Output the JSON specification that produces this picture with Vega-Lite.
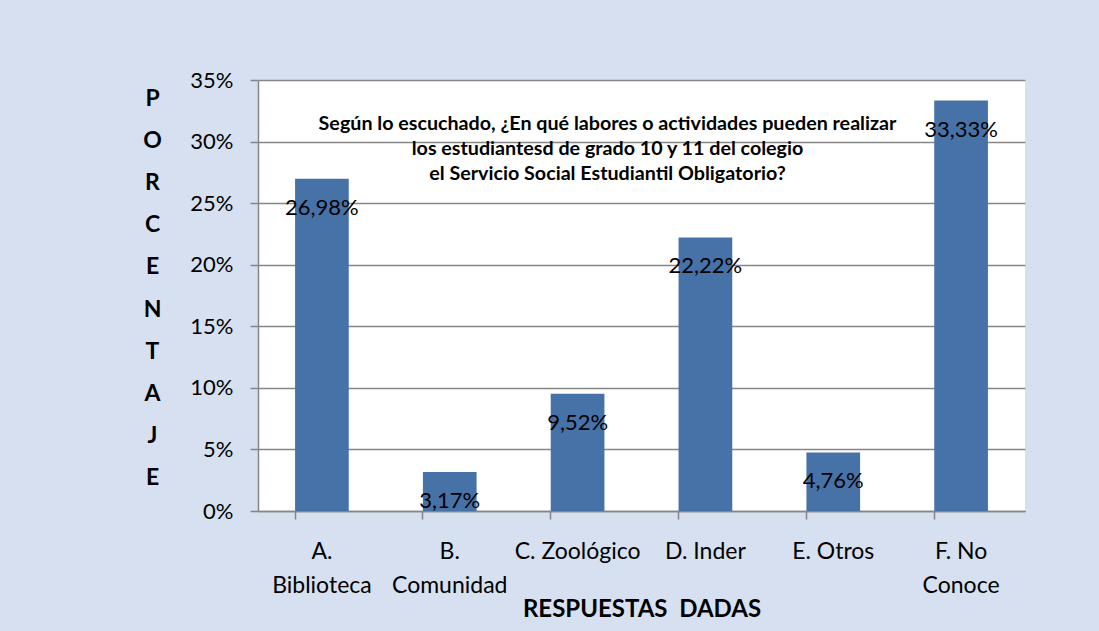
{
  "$schema": "https://vega.github.io/schema/vega-lite/v6.json",
  "width": 767,
  "height": 431,
  "autosize": "none",
  "padding": {"left": 258, "top": 80, "right": 74, "bottom": 120},
  "background": "#d6e0f1",
  "config": {
    "font": "Lato",
    "locale": {"number": {"decimal": ",", "thousands": ".", "grouping": [3], "currency": ["", " €"]}},
    "view": {"fill": "white", "stroke": null},
    "axis": {"labelFont": "Lato", "titleFont": "Lato", "labelColor": "#000000", "titleColor": "#000000",
             "domainColor": "#868686", "tickColor": "#868686", "gridColor": "#868686",
             "domainWidth": 1.5, "tickWidth": 1.5, "gridWidth": 1.5}
  },
  "title": {
    "text": ["Según lo escuchado, ¿En qué labores o actividades pueden realizar", "los estudiantesd de grado 10 y 11 del colegio", "el Servicio Social Estudiantil Obligatorio?"],
    "anchor": "middle",
    "frame": "group",
    "font": "Lato",
    "fontSize": 19.7,
    "fontWeight": "bold",
    "color": "#000000",
    "lineHeight": 25,
    "baseline": "top",
    "offset": 0,
    "dy": 115,
    "dx": -34
  },
  "data": {
    "values": [
      {"respuesta": "A. Biblioteca", "porcentaje": 0.2698},
      {"respuesta": "B. Comunidad", "porcentaje": 0.0317},
      {"respuesta": "C. Zoológico", "porcentaje": 0.0952},
      {"respuesta": "D. Inder", "porcentaje": 0.2222},
      {"respuesta": "E. Otros", "porcentaje": 0.0476},
      {"respuesta": "F. No Conoce", "porcentaje": 0.3333}
    ]
  },
  "encoding": {
    "x": {
      "field": "respuesta", "type": "nominal", "sort": null,
      "scale": {"paddingInner": 0.58, "paddingOuter": 0.29},
      "axis": {
        "title": "RESPUESTAS\u00a0\u00a0DADAS",
        "titleFontSize": 24, "titleFontWeight": "bold",
        "titleY": 98, "titleBaseline": "middle",
        "labelAngle": 0, "labelFontSize": 23, "labelLineHeight": 34,
        "labelPadding": 21, "tickSize": 8, "bandPosition": 0,
        "labelExpr": "datum.label == 'A. Biblioteca' ? ['A.', 'Biblioteca'] : datum.label == 'B. Comunidad' ? ['B.', 'Comunidad'] : datum.label == 'F. No Conoce' ? ['F. No', 'Conoce'] : datum.label"
      }
    },
    "y": {
      "field": "porcentaje", "type": "quantitative",
      "scale": {"domain": [0, 0.35], "nice": false},
      "axis": {
        "values": [0, 0.05, 0.1, 0.15, 0.2, 0.25, 0.3, 0.35],
        "format": ".0%", "labelFontSize": 22, "labelPadding": 17, "tickSize": 8,
        "grid": true,
        "title": ["P", "O", "R", "C", "E", "N", "T", "A", "J", "E"],
        "titleAngle": 0, "titleFontSize": 23, "titleFontWeight": "bold",
        "titleX": -106, "titleY": 18, "titleAlign": "center", "titleBaseline": "middle",
        "titleLineHeight": 42.2
      }
    }
  },
  "layer": [
    {"mark": {"type": "bar", "color": "#4672a8"}},
    {
      "mark": {"type": "text", "fontSize": 22, "font": "Lato", "color": "#000000", "baseline": "middle", "dy": 29},
      "encoding": {"text": {"field": "porcentaje", "type": "quantitative", "format": ".2%"}}
    }
  ]
}
